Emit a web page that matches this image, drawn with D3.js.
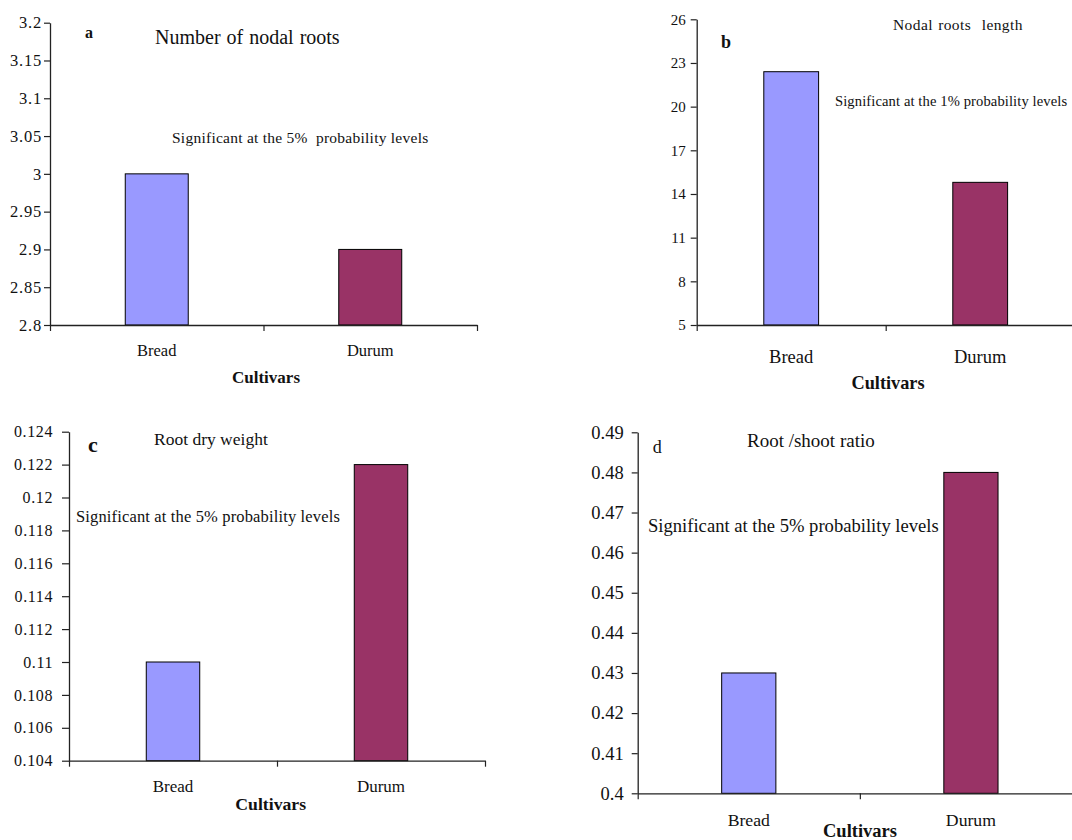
<!DOCTYPE html>
<html>
<head>
<meta charset="utf-8">
<script src="https://cdn.jsdelivr.net/npm/d3@7"></script>
<style>
  html, body { margin: 0; padding: 0; background: #fff; }
  svg { display: block; }
  svg text { font-family: "Liberation Serif", "Times New Roman", serif; }
</style>
</head>
<body>
<svg id="chart" width="1072" height="840"></svg>
<script>
// ---- Data ----
const categories = ["Bread", "Durum"];
const nodalRootNumber = [3.0, 2.9];
const nodalRootLength = [22.4, 14.8];
const rootDryWeight = [0.110, 0.122];
const rootShootRatio = [0.43, 0.48];

const ticksA = [2.8, 2.85, 2.9, 2.95, 3, 3.05, 3.1, 3.15, 3.2];
const ticksB = [5, 8, 11, 14, 17, 20, 23, 26];
const ticksC = [0.104, 0.106, 0.108, 0.11, 0.112, 0.114, 0.116, 0.118, 0.12, 0.122, 0.124];
const ticksD = [0.4, 0.41, 0.42, 0.43, 0.44, 0.45, 0.46, 0.47, 0.48, 0.49];

const barColors = ["#9999FF", "#993366"];
const xAxisTitle = "Cultivars";

// ---- Panel layouts (positions / styles only) ----
const panels = [
  { values: nodalRootNumber, ticks: ticksA,
    x0: 50, x1: 477, yTop: 22.7, yBot: 325, barRatio: 0.295,
    tickFont: 16.5, tickSize: 6, tickPad: 2, tickSpacing: 0.8,
    catFont: 16.5, catDy: 31, axFont: 17, axX: 266, axDy: 58,
    letter: { t: "a", x: 85, y: 38, size: 16, bold: true },
    title: { t: "Number of nodal roots", x: 155, y: 44, size: 20, ws: 1 },
    sig: { t: "Significant at the 5%\u00A0\u00A0probability levels", x: 172, y: 143, size: 15.5, ls: 0.25 } },
  { values: nodalRootLength, ticks: ticksB,
    x0: 696.7, x1: 1074.7, yTop: 19.3, yBot: 325, barRatio: 0.29,
    tickFont: 15, tickSize: 6, tickPad: 5, tickSpacing: 0,
    catFont: 18.5, catDy: 38, axFont: 18.3, axX: 888, axDy: 64,
    letter: { t: "b", x: 721, y: 48, size: 18, bold: true },
    title: { t: "Nodal roots\u00A0\u00A0length", x: 893, y: 30, size: 15.5, ws: 1, ls: 0.4 },
    sig: { t: "Significant at the 1% probability levels", x: 835, y: 106, size: 14.6, ls: 0.1 } },
  { values: rootDryWeight, ticks: ticksC,
    x0: 69, x1: 485, yTop: 431.7, yBot: 760.7, barRatio: 0.257,
    tickFont: 16, tickSize: 7, tickPad: 9, tickSpacing: 0.6,
    catFont: 17, catDy: 31, axFont: 17.7, axX: 270.7, axDy: 49.5,
    letter: { t: "c", x: 88, y: 452, size: 22, bold: true },
    title: { t: "Root dry weight", x: 154, y: 445, size: 17.5, ws: 0 },
    sig: { t: "Significant at the 5% probability levels", x: 76, y: 521.7, size: 16.5, ls: 0.15 } },
  { values: rootShootRatio, ticks: ticksD,
    x0: 637.7, x1: 1082, yTop: 432.3, yBot: 793.3, barRatio: 0.244,
    tickFont: 18.5, tickSize: 6, tickPad: 8, tickSpacing: 0,
    catFont: 17.7, catDy: 33, axFont: 18.5, axX: 860, axDy: 43.5,
    letter: { t: "d", x: 652.7, y: 453.3, size: 18, bold: false },
    title: { t: "Root /shoot ratio", x: 747, y: 446.7, size: 19, ws: 0 },
    sig: { t: "Significant at the 5% probability levels", x: 648, y: 531.7, size: 18.6, ls: 0 } }
];

const svg = d3.select("#chart");
const serif = '"Liberation Serif", "Times New Roman", serif';

panels.forEach(p => {
  const g = svg.append("g");
  const y = d3.scaleLinear()
    .domain([p.ticks[0], p.ticks[p.ticks.length - 1]])
    .range([p.yBot, p.yTop]);
  const x = d3.scaleBand().domain(categories).range([p.x0, p.x1]).padding(0);
  const xEdges = d3.scaleLinear().domain([0, categories.length]).range([p.x0, p.x1]);

  // bars
  const bw = x.bandwidth() * p.barRatio;
  g.selectAll("rect.bar")
    .data(categories.map((c, i) => ({ c, v: p.values[i], i })))
    .join("rect")
    .attr("class", "bar")
    .attr("x", d => x(d.c) + x.bandwidth() / 2 - bw / 2)
    .attr("y", d => y(d.v))
    .attr("width", bw)
    .attr("height", d => y(y.domain()[0]) - y(d.v))
    .attr("fill", d => barColors[d.i])
    .attr("stroke", "#000")
    .attr("stroke-width", 1);

  // y axis
  const yAxis = g.append("g")
    .attr("transform", `translate(${p.x0},0)`)
    .call(d3.axisLeft(y).tickValues(p.ticks)
      .tickFormat(v => String(+v.toFixed(4)))
      .tickSize(p.tickSize).tickSizeOuter(0).tickPadding(p.tickPad));
  yAxis.attr("font-family", null).attr("font-size", null);
  yAxis.select(".domain").attr("stroke", "#222").attr("stroke-width", 1.3);
  yAxis.selectAll(".tick line").attr("stroke", "#222").attr("stroke-width", 1.2);
  yAxis.selectAll(".tick text")
    .style("font-family", serif)
    .style("font-size", p.tickFont + "px")
    .style("letter-spacing", p.tickSpacing + "px")
    .attr("fill", "#111");

  // x axis (band edge ticks)
  const xAxis = g.append("g")
    .attr("transform", `translate(0,${p.yBot})`)
    .call(d3.axisBottom(xEdges).tickValues(d3.range(categories.length + 1))
      .tickFormat("").tickSize(6).tickSizeOuter(0));
  xAxis.select(".domain").attr("stroke", "#222").attr("stroke-width", 1.3);
  xAxis.selectAll(".tick line").attr("stroke", "#222").attr("stroke-width", 1.2);

  // category labels
  g.selectAll("text.cat")
    .data(categories)
    .join("text")
    .attr("class", "cat")
    .attr("x", d => x(d) + x.bandwidth() / 2)
    .attr("y", p.yBot + p.catDy)
    .attr("text-anchor", "middle")
    .style("font-size", p.catFont + "px")
    .attr("fill", "#111")
    .text(d => d);

  // axis title
  g.append("text")
    .attr("x", p.axX)
    .attr("y", p.yBot + p.axDy)
    .attr("text-anchor", "middle")
    .style("font-size", p.axFont + "px")
    .style("font-weight", "bold")
    .attr("fill", "#111")
    .text(xAxisTitle);

  // panel letter
  g.append("text")
    .attr("x", p.letter.x).attr("y", p.letter.y)
    .style("font-size", p.letter.size + "px")
    .style("font-weight", p.letter.bold ? "bold" : "normal")
    .attr("fill", "#111")
    .text(p.letter.t);

  // title
  g.append("text")
    .attr("x", p.title.x).attr("y", p.title.y)
    .style("font-size", p.title.size + "px")
    .style("word-spacing", (p.title.ws || 0) + "px")
    .style("letter-spacing", (p.title.ls || 0) + "px")
    .attr("fill", "#111")
    .text(p.title.t);

  // significance note
  g.append("text")
    .attr("x", p.sig.x).attr("y", p.sig.y)
    .style("font-size", p.sig.size + "px")
    .style("letter-spacing", (p.sig.ls || 0) + "px")
    .attr("fill", "#111")
    .text(p.sig.t);
});
</script>
</body>
</html>
